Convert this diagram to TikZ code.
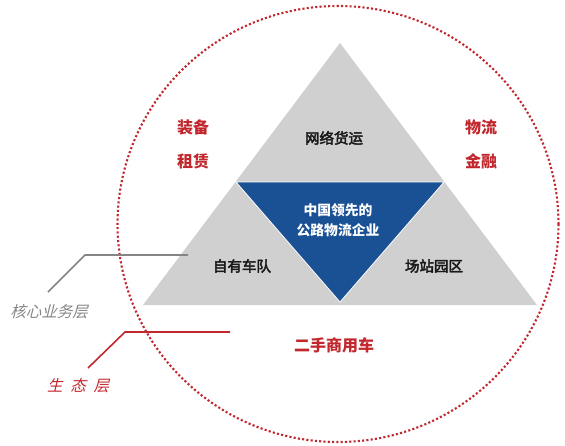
\documentclass[tikz,border=0pt]{standalone}
\usepackage{fontspec}
\newfontfamily\cjk[AutoFakeSlant=0.25]{Noto Sans CJK SC}
\newfontfamily\cjkmed[FakeBold=3]{Noto Sans CJK SC}
\definecolor{cred}{HTML}{C1272D}
\definecolor{cblue}{HTML}{1A5195}
\definecolor{cgray}{HTML}{D0D0D0}
\definecolor{lgray}{HTML}{858585}
\begin{document}
\begin{tikzpicture}[x=1pt,y=-1pt,
  redlbl/.style={font=\cjk\bfseries\fontsize{16}{18}\selectfont, text=cred, align=center, inner sep=0},
  blk/.style={font=\cjkmed\fontsize{14.5}{16}\selectfont, text=black!90, inner sep=0},
  wht/.style={font=\cjk\bfseries\fontsize{13.8}{20}\selectfont, text=white, align=center, inner sep=0}]
\useasboundingbox (0,0) rectangle (565,445);
% circle
\draw[cred, line width=2.1pt, dash pattern=on 2.1pt off 2.2pt] (338,224) ellipse [x radius=220.5, y radius=218];
% gray triangle
\fill[cgray] (340,43) -- (537,305) -- (143,305) -- cycle;
% blue inverted triangle
\fill[cblue, draw=white, line width=0.8pt] (236,182) -- (444,182) -- (340,302) -- cycle;
% labels
\node[blk] (net) at (334,138) {网络货运};
\node[blk] (fleet) at (242,266) {自有车队};
\node[blk] (yard) at (434,266) {场站园区};
\node[wht] (core) at (338,220) {中国领先的\\公路物流企业};
\node[redlbl] (lease1) at (193,127) {装备};
\node[redlbl] (lease2) at (193,161) {租赁};
\node[redlbl] (fin1) at (481,127) {物流};
\node[redlbl] (fin2) at (481,161) {金融};
\node[redlbl] (used) at (334,345) {二手商用车};
\node[font=\cjk\itshape\fontsize{15.5}{17}\selectfont, text=lgray, inner sep=0] (corelayer) at (49,312) {核心业务层};
\node[font=\cjk\itshape\fontsize{15.5}{17}\selectfont, text=cred, inner sep=0] (eco) at (78,386) {生\hspace{0.5em}态\hspace{0.5em}层};
% leaders
\coordinate (g1) at (48,292);
\coordinate (g2) at (85,255);
\coordinate (g3) at (188,255);
\draw[lgray, line width=1.6pt] (g1) -- (g2) -- (g3);
\coordinate (r1) at (88,368);
\coordinate (r2) at (125,332);
\coordinate (r3) at (230,332);
\draw[cred, line width=1.6pt] (r1) -- (r2) -- (r3);
\end{tikzpicture}
\end{document}
